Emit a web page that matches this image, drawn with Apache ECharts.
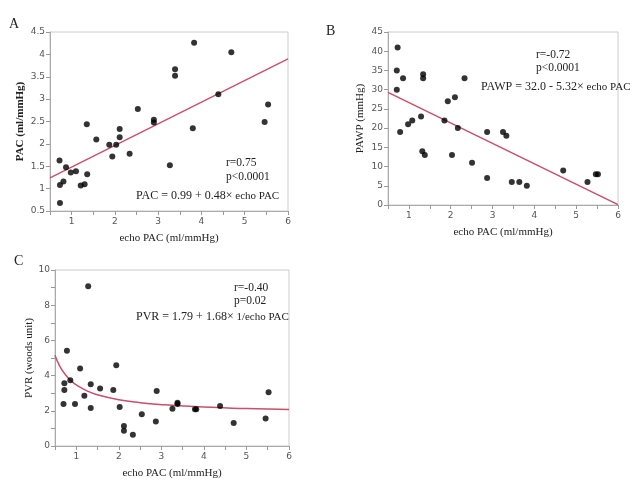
<!DOCTYPE html>
<html>
<head>
<meta charset="utf-8">
<script src="https://cdn.jsdelivr.net/npm/echarts@6/dist/echarts.min.js"></script>
<style>html,body{margin:0;padding:0;background:#fff;}#c{width:633px;height:487px;}</style>
</head>
<body>
<div id="c"></div>
<script>
// Panel A: echo PAC vs PAC
const aX = [0.72,0.73,0.73,0.81,0.87,0.98,1.10,1.21,1.30,1.36,1.35,1.57,1.87,1.94,2.03,2.11,2.11,2.34,2.53,2.90,2.90,3.27,3.80,3.39,3.39,3.83,4.39,4.69,5.46,5.54];
const aY = [1.63,0.68,1.08,1.16,1.48,1.36,1.39,1.07,1.10,1.32,2.44,2.10,1.98,1.72,1.98,2.33,2.15,1.78,2.78,2.54,2.48,1.52,2.35,3.67,3.52,4.26,3.11,4.05,2.49,2.88];
const aFitX = [0.5, 6];
const aFitY = [1.24, 3.90];

// Panel B: echo PAC vs PAWP
const bX = [0.73,0.71,0.71,0.86,1.34,1.34,2.33,1.93,2.10,1.29,0.79,0.98,1.08,1.32,1.38,1.85,2.17,2.03,2.51,2.87,2.87,3.25,3.33,3.46,3.64,3.82,4.69,5.27,5.47,5.52];
const bY = [41,35,30,33,34,33,33,27,28,23,19,21,22,14,13,22,20,13,11,19,7,19,18,6,6,5,9,6,8,8];
const bFitX = [0.5, 6];
const bFitY = [29.3, 0.1];

// Panel C: echo PAC vs PVR
const cX = [1.28,0.78,1.09,1.94,0.72,0.72,0.86,0.70,0.97,1.19,1.34,1.34,1.56,1.87,2.02,2.12,2.12,2.33,2.54,2.87,2.89,3.26,3.38,3.38,3.79,3.82,4.38,4.70,5.45,5.52];
const cY = [9.08,5.41,4.40,4.59,3.57,3.18,3.74,2.39,2.39,2.86,3.51,2.16,3.27,3.18,2.22,1.13,0.86,0.64,1.80,1.39,3.12,2.12,2.46,2.39,2.09,2.09,2.27,1.30,1.56,3.06];
const cFitX = [0.5,0.6,0.75,0.9,1.0,1.25,1.5,2.0,2.5,3.0,4.0,5.0,6.0];
const cFitY = [5.15,4.59,4.03,3.66,3.47,3.13,2.91,2.63,2.46,2.35,2.21,2.13,2.07];

const xTicks = ['1','2','3','4','5','6'];

const pair = (xs, ys) => xs.map((v, i) => [v, ys[i]]);

const SERIF = '"Liberation Serif","DejaVu Serif",serif';
const SANS = '"DejaVu Sans",sans-serif';
const FIT = '#c8506a';

function xAxisFor(grid, name) {
  return {
    gridIndex: grid, type: 'value', min: 0.5, max: 6, interval: 0.5,
    name: name, nameLocation: 'middle', nameGap: 22,
    nameTextStyle: { fontFamily: SERIF, fontSize: 11, color: '#222' },
    axisLine: { show: true, lineStyle: { color: '#aaa' } },
    axisTick: { show: true, length: 4, lineStyle: { color: '#999' } },
    axisLabel: { fontFamily: SANS, fontSize: 9, color: '#555', margin: 6,
      formatter: v => xTicks.indexOf(String(v)) >= 0 ? String(v) : '' },
    splitLine: { show: false }
  };
}
function yAxisFor(grid, min, max, interval, name, bold, fmt, gap) {
  return {
    gridIndex: grid, type: 'value', min: min, max: max, interval: interval,
    name: name, nameLocation: 'middle', nameGap: gap,
    nameTextStyle: { fontFamily: SERIF, fontSize: 11, color: '#222', fontWeight: bold ? 'bold' : 'normal' },
    axisLine: { show: true, lineStyle: { color: '#aaa' } },
    axisTick: { show: true, length: 4, lineStyle: { color: '#999' } },
    axisLabel: { fontFamily: SANS, fontSize: 9, color: '#555', margin: 5, formatter: fmt },
    splitLine: { show: false }
  };
}

const chart = echarts.init(document.getElementById('c'), null, { renderer: 'canvas' });
const richEq = { a: { fontFamily: SERIF, fontSize: 12, fill: '#222' }, b: { fontFamily: SERIF, fontSize: 11, fill: '#222' } };
const option = {
  backgroundColor: '#fff',
  animation: false,
  grid: [
    { left: 50, top: 32, width: 238, height: 179, show: true, borderColor: '#ccc', borderWidth: 1 },
    { left: 388, top: 32, width: 230, height: 173, show: true, borderColor: '#ccc', borderWidth: 1 },
    { left: 55, top: 270, width: 234, height: 176, show: true, borderColor: '#ccc', borderWidth: 1 }
  ],
  xAxis: [
    xAxisFor(0, 'echo PAC (ml/mmHg)'),
    xAxisFor(1, 'echo PAC (ml/mmHg)'),
    xAxisFor(2, 'echo PAC (ml/mmHg)')
  ],
  yAxis: [
    yAxisFor(0, 0.5, 4.5, 0.5, 'PAC (ml/mmHg)', true, v => String(v), 24),
    yAxisFor(1, 0, 45, 5, 'PAWP (mmHg)', false, v => String(v), 22),
    yAxisFor(2, 0, 10, 1, 'PVR (woods unit)', false, v => (v % 2 === 0 ? String(v) : ''), 20)
  ],
  series: [
    { type: 'line', xAxisIndex: 0, yAxisIndex: 0, data: pair(aFitX, aFitY), showSymbol: false, lineStyle: { color: FIT, width: 1.5 }, z: 2 },
    { type: 'scatter', xAxisIndex: 0, yAxisIndex: 0, data: pair(aX, aY), symbolSize: 6, itemStyle: { color: '#000' }, z: 3 },
    { type: 'line', xAxisIndex: 1, yAxisIndex: 1, data: pair(bFitX, bFitY), showSymbol: false, lineStyle: { color: FIT, width: 1.5 }, z: 2 },
    { type: 'scatter', xAxisIndex: 1, yAxisIndex: 1, data: pair(bX, bY), symbolSize: 6, itemStyle: { color: '#000' }, z: 3 },
    { type: 'line', xAxisIndex: 2, yAxisIndex: 2, data: pair(cFitX, cFitY), smooth: true, showSymbol: false, lineStyle: { color: FIT, width: 1.5 }, z: 2 },
    { type: 'scatter', xAxisIndex: 2, yAxisIndex: 2, data: pair(cX, cY), symbolSize: 6, itemStyle: { color: '#000' }, z: 3 }
  ],
  graphic: [
    { type: 'text', left: 9, top: 17, style: { text: 'A', font: '14px ' + SERIF, fill: '#222' } },
    { type: 'text', left: 326, top: 24, style: { text: 'B', font: '14px ' + SERIF, fill: '#222' } },
    { type: 'text', left: 14, top: 254, style: { text: 'C', font: '14px ' + SERIF, fill: '#222' } },

    { type: 'text', left: 226, top: 157, style: { text: 'r=0.75', font: '11.5px ' + SERIF, fill: '#222' } },
    { type: 'text', left: 226, top: 171, style: { text: 'p<0.0001', font: '11.5px ' + SERIF, fill: '#222' } },
    { type: 'text', left: 136, top: 190, style: { text: '{a|PAC = 0.99 + 0.48×}{b| echo PAC}', rich: richEq } },

    { type: 'text', left: 536, top: 49, style: { text: 'r=-0.72', font: '11.5px ' + SERIF, fill: '#222' } },
    { type: 'text', left: 536, top: 62, style: { text: 'p<0.0001', font: '11.5px ' + SERIF, fill: '#222' } },
    { type: 'text', left: 481, top: 81, style: { text: '{a|PAWP = 32.0 - 5.32×}{b| echo PAC}', rich: richEq } },

    { type: 'text', left: 234, top: 282, style: { text: 'r=-0.40', font: '11.5px ' + SERIF, fill: '#222' } },
    { type: 'text', left: 234, top: 295, style: { text: 'p=0.02', font: '11.5px ' + SERIF, fill: '#222' } },
    { type: 'text', left: 136, top: 311, style: { text: '{a|PVR = 1.79 + 1.68×}{b| 1/echo PAC}', rich: richEq } }
  ]
};
chart.setOption(option);
</script>
</body>
</html>
